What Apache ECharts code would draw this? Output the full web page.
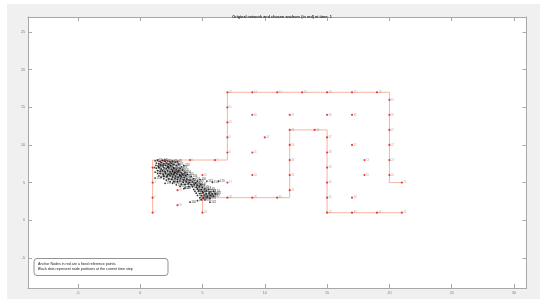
<!DOCTYPE html>
<html>
<head>
<meta charset="utf-8">
<script src="https://cdn.jsdelivr.net/npm/echarts@6/dist/echarts.min.js"></script>
<style>
html,body{margin:0;padding:0;background:#fff;}
#bg{position:absolute;left:7px;top:4px;width:533px;height:295px;background:#f0f0f0;}
#chart{position:absolute;left:0;top:0;width:550px;height:307px;}
</style>
</head>
<body>
<div id="bg"></div>
<div id="chart"></div>
<script>
const titleText = 'Original network and chosen anchors (in red) at time: 1';
const noteLines = ['Anchor Nodes in red are a fixed reference points.', 'Black dots represent node positions at the current time step'];
const xTicks = [-5, 0, 5, 10, 15, 20, 25, 30];
const yTicks = [-5, 0, 5, 10, 15, 20, 25];
const xRange = [-9, 31];
const yRange = [-9, 27];

const boundaryA = [[1,1],[1,8],[7,8],[7,17],[20,17],[20,5],[21,5]];
const boundaryB = [[5,1],[5,3],[12,3],[12,12],[15,12],[15,1],[21,1]];

const anchors = [
 [1,1],[1,3],[1,5],[1,7],[2,8],[4,8],[6,8],[7,9],[7,11],[7,13],[7,15],[7,17],
 [9,17],[11,17],[13,17],[15,17],[17,17],[19,17],[20,16],[20,14],[20,12],[20,10],[20,8],[20,6],[21,5],
 [5,1],[5,3],[7,3],[9,3],[11,3],[12,4],[12,6],[12,8],[12,10],[12,12],[14,12],
 [15,11],[15,9],[15,7],[15,5],[15,3],[15,1],[17,1],[19,1],[21,1],
 [9,14],[12,14],[15,14],[17,14],[10,11],[9,9],[17,10],[18,8],[9,6],[18,6],[5,6],[7,5],[3,4],[3,2],[17,3]
];

const nodes = [
 [1.2,7.9],[1.4,8.0],[1.6,7.8],[1.8,7.95],[2.0,7.85],[2.2,7.9],[2.4,7.75],[2.6,7.85],[2.8,7.7],[3.0,7.8],
 [1.3,7.6],[1.5,7.5],[1.7,7.65],[1.9,7.5],[2.1,7.6],[2.3,7.45],[2.5,7.55],[2.7,7.4],[1.25,7.3],[1.45,7.2],
 [1.65,7.35],[1.85,7.25],[2.05,7.3],[2.25,7.15],[2.45,7.25],[2.9,7.3],[3.1,7.45],
 [1.3,6.9],[1.5,7.0],[1.7,6.8],[1.9,7.0],[2.1,6.85],[2.3,6.95],[2.5,6.8],[2.7,6.9],[2.9,6.75],[3.2,6.9],
 [1.4,6.6],[1.6,6.5],[1.8,6.6],[2.0,6.45],[2.2,6.55],[2.4,6.4],[2.6,6.5],[2.8,6.35],[3.0,6.45],[3.3,6.3],
 [1.6,6.2],[1.85,6.1],[2.05,6.25],[2.3,6.1],[2.5,6.2],[2.7,6.05],[2.95,6.15],[3.15,6.0],[3.4,6.1],
 [1.9,5.85],[2.15,5.8],[2.4,5.9],[2.6,5.75],[2.85,5.85],[3.05,5.7],[3.3,5.8],[3.55,5.65],
 [2.3,5.5],[2.55,5.45],[2.8,5.55],[3.0,5.4],[3.25,5.5],[3.5,5.35],[3.75,5.45],[4.0,5.3],
 [2.7,5.15],[3.0,5.1],[3.2,5.2],[3.45,5.05],[3.7,5.15],[3.95,5.0],[4.2,5.1],[4.45,4.95],
 [3.3,4.8],[3.6,4.75],[3.85,4.85],[4.1,4.7],[4.35,4.8],[4.6,4.65],[4.85,4.75],
 [3.9,4.5],[4.2,4.45],[4.5,4.4],[4.75,4.5],[5.0,4.35],
 [5.35,5.2],[5.8,5.05],[6.3,5.2],[4.8,5.4],[2.0,4.9],[1.2,5.6],[3.6,4.3],[4.0,2.4],[4.6,2.6],[5.6,2.4],[2.7,7.0],
 [4.3,4.1],[4.6,4.15],[4.9,4.05],[5.2,4.2],[5.5,4.1],[4.4,3.85],[4.7,3.9],[5.0,3.8],[5.3,3.9],[5.6,3.8],[5.9,3.85],
 [4.5,3.6],[4.8,3.55],[5.05,3.65],[5.3,3.5],[5.55,3.6],[5.8,3.5],[6.05,3.55],
 [4.6,3.3],[4.9,3.25],[5.15,3.35],[5.4,3.2],[5.65,3.3],[5.9,3.2],
 [4.8,3.0],[5.1,2.95],[5.35,3.05],[5.6,2.9],[5.2,2.7],[4.9,2.75],
 [1.5,5.9],[1.7,5.7],[1.9,5.5],[2.1,5.3],[2.4,5.1],[2.6,4.9],[2.9,4.7],[3.2,4.5],[3.5,4.2],
 [3.4,6.7],[3.6,6.4],[3.8,6.1],[4.1,5.8],[4.3,5.5],[4.6,5.2],[3.3,7.1],[3.5,7.3],
 [1.15,7.0],[1.2,6.4],[1.4,6.2],[2.2,7.05],[2.6,6.65],[3.1,6.6],[2.75,6.25],[3.2,5.95],[3.65,5.9],[2.2,6.0]
];

const FONT = 'Liberation Sans';
const axisColor = '#a8a8a8';
function mkX(pos, labels) {
  return {
    type: 'value', position: pos, min: xRange[0], max: xRange[1],
    axisLine: {show: true, onZero: false, lineStyle: {color: axisColor, width: 1}},
    axisTick: {show: true, inside: true, length: 4, customValues: xTicks, lineStyle: {color: axisColor}},
    axisLabel: {show: labels, customValues: xTicks, fontSize: 3.6, color: '#777', fontFamily: FONT, margin: 3},
    splitLine: {show: false}
  };
}
function mkY(pos, labels) {
  return {
    type: 'value', position: pos, min: yRange[0], max: yRange[1],
    axisLine: {show: true, onZero: false, lineStyle: {color: axisColor, width: 1}},
    axisTick: {show: true, inside: true, length: 4, customValues: yTicks, lineStyle: {color: axisColor}},
    axisLabel: {show: labels, customValues: yTicks, fontSize: 3.6, color: '#777', fontFamily: FONT, margin: 3},
    splitLine: {show: false}
  };
}

const chart = echarts.init(document.getElementById('chart'), null, {renderer: 'canvas'});
const lineColor = '#f5ab94';
chart.setOption({
  backgroundColor: 'transparent',
  animation: false,
  title: {
    text: titleText, left: 277, top: 10, textAlign: 'center',
    textStyle: {fontSize: 3.8, fontWeight: 'bold', color: '#222', fontFamily: FONT}
  },
  grid: {left: 28, top: 17, width: 498.5, height: 271, show: true, backgroundColor: '#fff', borderWidth: 0},
  xAxis: [mkX('bottom', true), mkX('top', false)],
  yAxis: [mkY('left', true), mkY('right', false)],
  series: [
    {type: 'line', data: boundaryA, symbol: 'none', lineStyle: {color: lineColor, width: 0.9}, z: 2},
    {type: 'line', data: boundaryB, symbol: 'none', lineStyle: {color: lineColor, width: 0.9}, z: 2},
    {type: 'scatter', data: nodes, symbol: 'circle', symbolSize: 1.8,
     itemStyle: {color: '#000'}, z: 3,
     label: {show: true, position: 'right', distance: 0.5, fontSize: 2.8, color: '#111', fontFamily: FONT,
             formatter: p => String(p.dataIndex + 61)}},
    {type: 'scatter', data: anchors, symbol: 'circle', symbolSize: 2.2,
     itemStyle: {color: '#ee1111'}, z: 4,
     label: {show: true, position: 'right', distance: 0.5, fontSize: 2.6, color: '#999', fontFamily: FONT,
             formatter: p => String(p.dataIndex + 1)}}
  ],
  graphic: [
    {type: 'rect', z: 100, shape: {x: 34, y: 258.5, width: 134, height: 17, r: 3},
     style: {fill: '#fff', stroke: '#777', lineWidth: 0.8}},
    {type: 'text', z: 101, x: 38, y: 261.5,
     style: {text: noteLines.join('\n'), fontSize: 3.6, lineHeight: 5, fill: '#222', fontFamily: FONT}}
  ]
});
</script>
</body>
</html>
